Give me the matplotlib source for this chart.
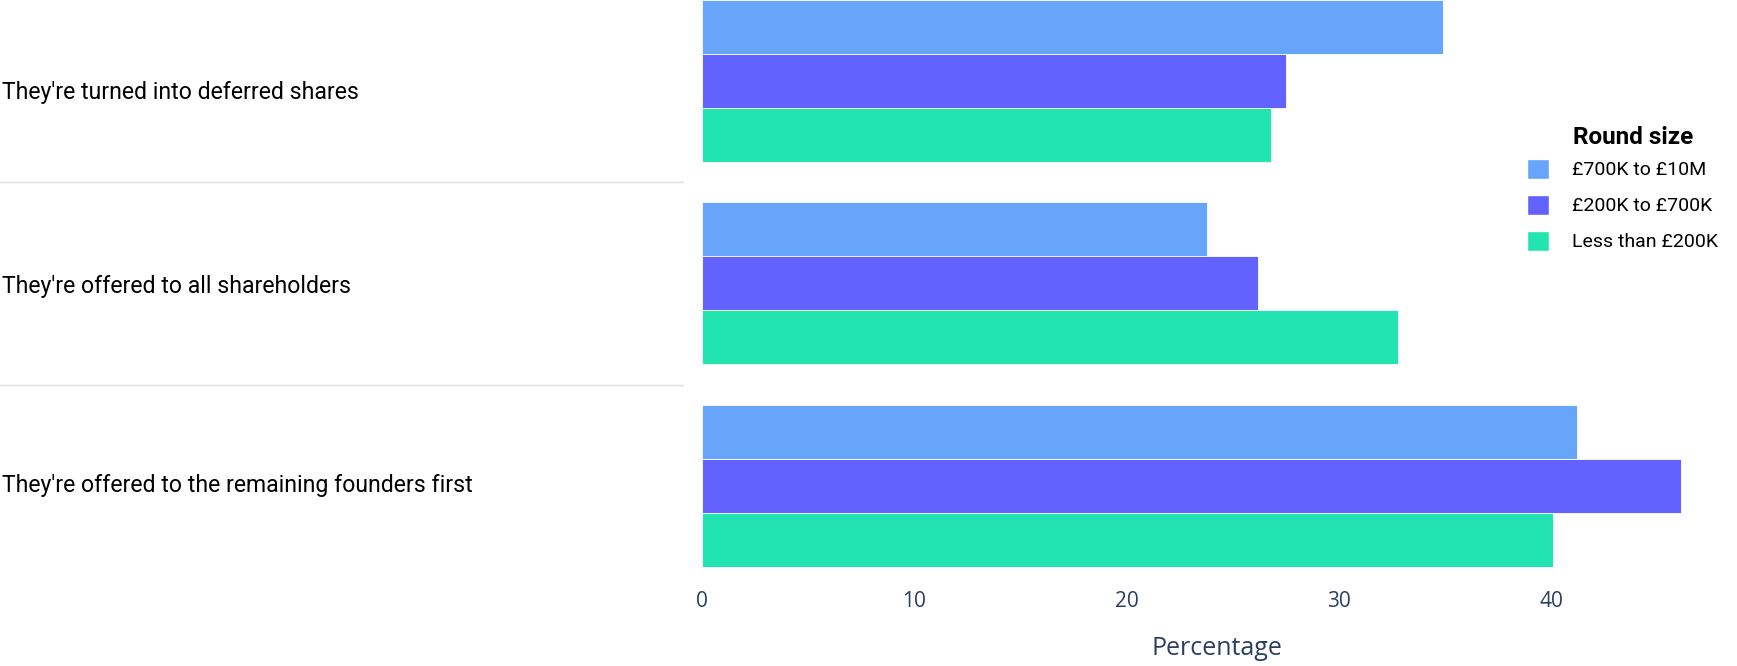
import matplotlib.pyplot as plt
import matplotlib.transforms as mtransforms
from matplotlib.patches import Patch
import numpy as np

categories = ["They're turned into deferred shares",
              "They're offered to all shareholders",
              "They're offered to the remaining founders first"]
series_names = ['£700K to £10M', '£200K to £700K', 'Less than £200K']
vals_700k_10m = [34.9, 23.8, 41.2]
vals_200k_700k = [27.5, 26.2, 46.1]
vals_lt_200k = [26.8, 32.8, 40.1]
colors = ['#66a5fa', '#6262ff', '#22e4b0']

W, H = 1737, 666
fig = plt.figure(figsize=(W / 100, H / 100), dpi=100)
# plot area in pixels: x from 702, 21.23 px per unit; y from 0 to 587
ax = fig.add_axes([702 / W, 1 - 587 / H, 1030 / W, 587 / H])

y = np.arange(len(categories))
bh = 0.8 / 3
series = [vals_700k_10m, vals_200k_700k, vals_lt_200k]
for i, (vals, c, name) in enumerate(zip(series, colors, series_names)):
    ax.barh(y - 0.8 / 2 + bh * (i + 0.5), vals, height=bh, color=c,
            edgecolor='white', linewidth=0.6, label=name)

ax.set_xlim(0, 1030 / 21.23)
ax.set_ylim(2.5, -0.4)
for s in ax.spines.values():
    s.set_visible(False)
ax.set_yticks([])
ax.set_xticks([0, 10, 20, 30, 40])
ax.tick_params(axis='x', length=0, pad=3, labelsize=15, labelcolor='#2a3f5f')
for lab in ax.get_xticklabels():
    lab.set_family('Open Sans')
ax.set_xlabel('Percentage', fontsize=18, color='#2a3f5f', family='Open Sans', labelpad=17)

# category labels and separators in the left margin
tr = mtransforms.blended_transform_factory(fig.transFigure, ax.transData)
baseline_shift = [0.087, 0.046, 0.030]
for k, cat in enumerate(categories):
    ax.text(2 / W, k + baseline_shift[k], cat, transform=tr, ha='left', va='baseline',
            fontsize=16.6, family='Roboto', color='black', clip_on=False)
for k in [0.5, 1.5]:
    ax.plot([0, 683 / W], [k, k], transform=tr, color='#e0e0e0', lw=1, clip_on=False)

# legend
fig.text(1573 / W, 1 - 137 / H, 'Round size', fontsize=17.5, fontweight='bold',
         family='Roboto', ha='left', va='center')
handles = [Patch(facecolor=c, edgecolor='white') for c in colors]
fig.legend(handles, series_names, loc='upper left',
           bbox_to_anchor=(1519 / W, 1 - 151 / H), frameon=False,
           prop={'family': 'Roboto', 'size': 14}, handlelength=1.15, handleheight=1.2,
           handletextpad=1.2, labelspacing=0.8, borderaxespad=0)

fig.savefig('out.png', dpi=100)
